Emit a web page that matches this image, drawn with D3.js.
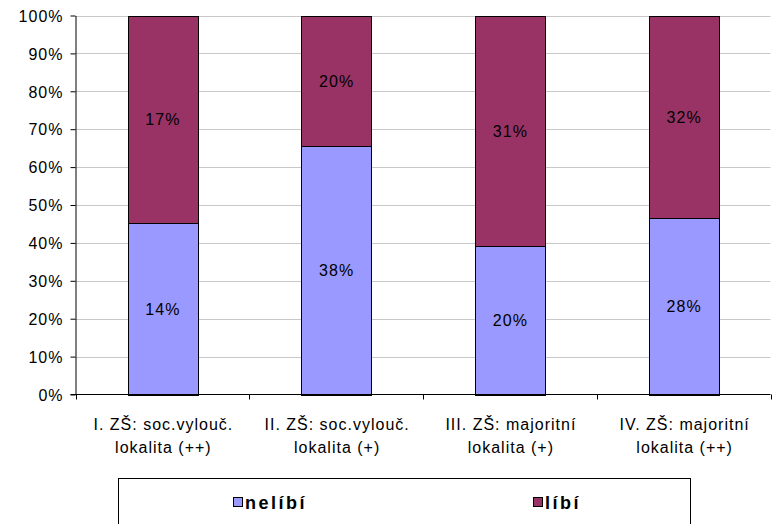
<!DOCTYPE html>
<html><head><meta charset="utf-8">
<script src="https://cdn.jsdelivr.net/npm/d3@7"></script>
<style>body{margin:0;background:#fff}svg{display:block;font-family:"Liberation Sans",Arial,sans-serif}</style>
</head><body>
<svg id="c" width="776" height="524"></svg>
<script>
const categories = [["I. ZŠ: soc.vylouč.","lokalita (++)"],["II. ZŠ: soc.vylouč.","lokalita (+)"],["III. ZŠ: majoritní","lokalita (+)"],["IV. ZŠ: majoritní","lokalita (++)"]];
const seriesNames = ["nelíbí","líbí"];
const nelibi = [14,38,20,28];
const libi = [17,20,31,32];
const colors = ["#9999FF","#993366"];
const yTicks = [0,10,20,30,40,50,60,70,80,90,100];

const FONT = "Liberation Sans, Arial, sans-serif";
const svg = d3.select("#c");
const m = {l:75.5, r:770.5, t:15.5, b:394.5};
const x = d3.scaleBand().domain(d3.range(categories.length)).range([m.l,m.r]).paddingInner(0.6).paddingOuter(0.3);
const xc = d3.scaleBand().domain(d3.range(categories.length)).range([m.l,m.r]);
const y = d3.scaleLinear().domain([0,100]).range([m.b,m.t]);

// grid
svg.append("g").selectAll("line").data(yTicks.filter(d=>d>0)).join("line")
  .attr("x1",m.l).attr("x2",m.r).attr("y1",d=>Math.round(y(d))+0.5).attr("y2",d=>Math.round(y(d))+0.5)
  .attr("stroke","#c8c8c8").attr("stroke-width",1);

const rows = categories.map((c,i)=>{const t=nelibi[i]+libi[i];return {i, v:[nelibi[i],libi[i]], p:[nelibi[i]/t*100, libi[i]/t*100]};});
const stack = d3.stack().keys([0,1]).value((d,k)=>d.p[k])(rows);

stack.forEach((s,k)=>{
  const g = svg.append("g");
  g.selectAll("rect").data(s).join("rect")
    .attr("x",d=>Math.round(x(d.data.i))+0.5).attr("width",Math.round(x.bandwidth()))
    .attr("y",d=>Math.round(y(d[1]))+0.5).attr("height",d=>Math.round(y(d[0]))-Math.round(y(d[1])))
    .attr("fill",colors[k]).attr("stroke","#000").attr("stroke-width",1);
  g.selectAll("text").data(s).join("text")
    .attr("x",d=>x(d.data.i)+x.bandwidth()/2+0.5).attr("y",d=>(y(d[0])+y(d[1]))/2+6)
    .attr("text-anchor","middle").attr("font-size",16).attr("letter-spacing","1px").attr("fill","#000")
    .text(d=>d.data.v[k]+"%");
});

// y axis
const ya = svg.append("g").attr("transform",`translate(${m.l},0)`)
  .call(d3.axisLeft(y).tickValues(yTicks).tickFormat(d=>d+"%").tickSize(5).tickSizeOuter(0));
ya.select(".domain").attr("stroke","#000");
ya.selectAll(".tick line").attr("stroke","#000");
ya.selectAll("text").attr("font-size",16).attr("font-family",FONT).attr("letter-spacing","1px")
  .attr("fill","#000").attr("x",-12).attr("dy","0.36em");

// x axis
const xa = svg.append("g").attr("transform",`translate(0,${m.b})`);
xa.append("line").attr("x1",m.l-5).attr("x2",m.r).attr("stroke","#000");
xa.selectAll("line.t").data(d3.range(categories.length+1)).join("line").attr("class","t")
  .attr("x1",d=>Math.round(m.l+d*xc.bandwidth())+0.5).attr("x2",d=>Math.round(m.l+d*xc.bandwidth())+0.5)
  .attr("y1",0).attr("y2",5).attr("stroke","#000");
xa.selectAll("text").data(categories).join("text")
  .attr("text-anchor","middle").attr("font-size",16).attr("letter-spacing","1px").attr("fill","#000")
  .attr("transform",(d,i)=>`translate(${xc(i)+xc.bandwidth()/2+1},0)`)
  .each(function(d){
    d3.select(this).selectAll("tspan").data(d).join("tspan").attr("x",0).attr("y",(t,j)=>35+j*23).text(t=>t);
  });

// legend
const lg = svg.append("g");
lg.append("rect").attr("x",118.5).attr("y",478.5).attr("width",572).attr("height",60).attr("fill","#fff").attr("stroke","#000");
const lx = [233,533];
seriesNames.forEach((n,k)=>{
  lg.append("rect").attr("x",lx[k]+0.5).attr("y",497.5).attr("width",9).attr("height",9).attr("fill",colors[k]).attr("stroke","#000");
  lg.append("text").attr("x",lx[k]+12).attr("y",509).attr("font-size",18).attr("font-weight","bold").attr("letter-spacing","2.5px").attr("fill","#000").text(n);
});
</script>
</body></html>
